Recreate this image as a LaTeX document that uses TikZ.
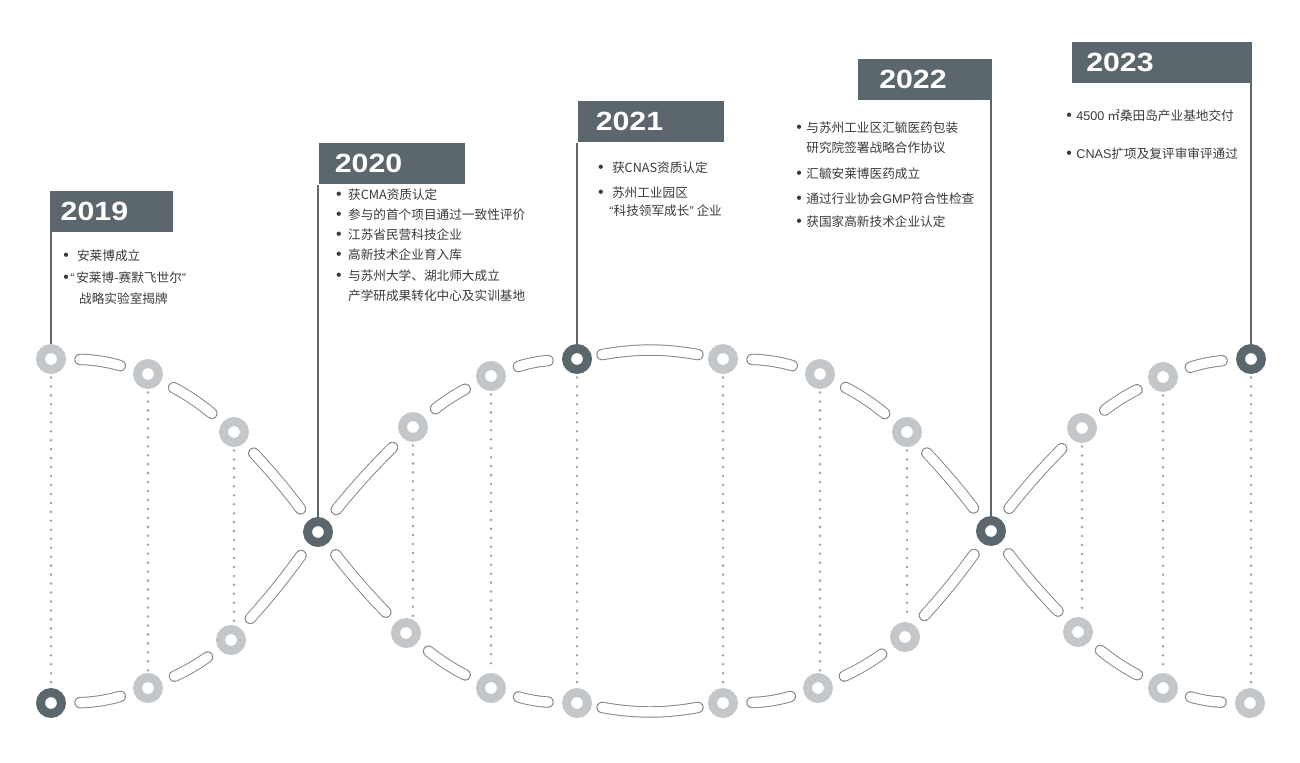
\documentclass[tikz,border=0pt]{standalone}
\usepackage{fontspec}
\usepackage{tikz}
\setmainfont{Noto Sans CJK SC}
\newfontfamily\latinfont{Liberation Sans}
\newfontfamily\yearfont[FakeStretch=1.15]{Liberation Sans}
\definecolor{darkslate}{HTML}{5C666D}
\definecolor{ringgray}{HTML}{C3C7CA}
\definecolor{capsgray}{HTML}{858585}
\definecolor{dotgray}{HTML}{A2A2A2}
\definecolor{txtgray}{HTML}{3A3A3A}
\newcommand{\bul}[1][6.8pt]{\makebox[#1][l]{\latinfont\fontsize{9pt}{9pt}\selectfont •}}

\begin{document}
\begin{tikzpicture}[
    x=0.02cm, y=0.02cm,
    ring/.style={circle, draw=ringgray, line width=5.1pt, fill=white, minimum size=11.9pt, inner sep=0pt, outer sep=2.55pt},
    darkring/.style={ring, draw=darkslate},
    capsule/.style={draw=capsgray, line width=0.55pt, double=white, double distance=5.4pt, line cap=round, shorten <=8pt, shorten >=8pt},
    dots/.style={dotgray, line width=1.6pt, line cap=round, dash pattern=on 0pt off 5.1pt, shorten <=2pt, shorten >=1pt},
    stem/.style={darkslate, line width=0.75pt},
    yearbox/.style={fill=darkslate, text=white, font=\yearfont\bfseries\fontsize{15pt}{15pt}\selectfont, minimum height=23.3pt, anchor=north west, align=left},
    info/.style={anchor=north west, inner sep=0pt, align=left, text=txtgray, font=\fontsize{7.2pt}{11.5pt}\selectfont},
]
\useasboundingbox (0,0) rectangle (1300,-762);

% strand a
\node[ring] (a1) at (51,-359) {};
\node[ring] (a2) at (148,-374) {};
\node[ring] (a3) at (234,-432) {};
\node[darkring] (x1) at (318,-532) {};
\node[ring] (a5) at (406,-633) {};
\node[ring] (a6) at (491,-688) {};
\node[ring] (a7) at (577,-703) {};
\node[ring] (a8) at (723,-703) {};
\node[ring] (a9) at (818,-688) {};
\node[ring] (a10) at (905,-637) {};
\node[darkring] (x2) at (991,-531) {};
\node[ring] (a12) at (1082,-428) {};
\node[ring] (a13) at (1163,-377) {};
\node[darkring] (a14) at (1251,-359) {};

% strand b
\node[darkring] (b1) at (51,-703) {};
\node[ring] (b2) at (148,-688) {};
\node[ring] (b3) at (231,-640) {};
\node[ring] (b5) at (413,-427) {};
\node[ring] (b6) at (491,-376) {};
\node[darkring] (b7) at (577,-359) {};
\node[ring] (b8) at (723,-359) {};
\node[ring] (b9) at (820,-374) {};
\node[ring] (b10) at (907,-432) {};
\node[ring] (b12) at (1078,-632) {};
\node[ring] (b13) at (1163,-688) {};
\node[ring] (b14) at (1250,-703) {};

\foreach \u/\l in {a1/b1, a2/b2, a3/b3, b5/a5, b6/a6, b7/a7, b8/a8, b9/a9, b10/a10, a12/b12, a13/b13, a14/b14}
    \draw[dots] (\u.south) -- (\u.south |- \l.north);

\foreach \s/\t/\b in {a1/a2/8, a2/a3/6, a3/x1/3, x1/a5/-3, a5/a6/-6, a6/a7/-8, a8/a9/-8, a9/a10/-6, a10/x2/-3, x2/a12/3, a12/a13/6, a13/a14/8,
                      b1/b2/-8, b2/b3/-6, b3/x1/-3, x1/b5/3, b5/b6/6, b6/b7/8, b8/b9/8, b9/b10/6, b10/x2/3, x2/b12/-3, b12/b13/-6, b13/b14/-8}
    \draw[capsule] (\s) to[bend left=\b] (\t);
\draw[capsule, shorten <=6pt, shorten >=6pt] (a7) to[bend right=10] (a8);
\draw[capsule, shorten <=6pt, shorten >=6pt] (b7) to[bend left=10] (b8);

\node[yearbox, inner xsep=6.2pt, text width=57.9pt] (y19) at (49.5,-190.7) {2019};
\node[yearbox, inner xsep=9.1pt, text width=65.1pt] (y20) at (318.5,-143) {2020};
\node[yearbox, inner xsep=10.2pt, text width=62.9pt] (y21) at (577.5,-101) {2021};
\node[yearbox, inner xsep=11.9pt, text width=52.2pt] (y22) at (858,-58.3) {2022};
\node[yearbox, inner xsep=7.9pt, text width=86.2pt] (y23) at (1072,-41.7) {2023};

\draw[stem] (a1.north) -- (a1.north |- y19.south);
\draw[stem] (x1.north) -- (x1.north |- y20.south);
\draw[stem] (b7.north) -- (b7.north |- y21.south);
\draw[stem] (x2.north) -- (x2.north |- y22.south);
\draw[stem] (a14.north) -- (a14.north |- y23.south);

\node[info] (t19) at (63,-249) {\bul[7.8pt]安莱博成立\\[1.5pt]
    \bul[4pt]{\latinfont “}\hspace{1pt}安莱博-赛默飞世尔{\latinfont ”}\\
    \hspace*{9pt}战略实验室揭牌};
\node[info] (t20) at (335.8,-188.3) {\bul 获CMA资质认定\\
    \bul 参与的首个项目通过一致性评价\\
    \bul 江苏省民营科技企业\\
    \bul 高新技术企业育入库\\
    \bul 与苏州大学、湖北师大成立\\
    \hspace*{6.8pt}产学研成果转化中心及实训基地};
\node[info] (t21) at (597.8,-161.7) {\bul[7.9pt]获CNAS资质认定\\[2.3pt]
    \bul[7.9pt]苏州工业园区\\[-1pt]
    \hspace*{6.4pt}{\latinfont “}科技领军成长{\latinfont ”} 企业};
\node[info] (t22) at (796,-121.7) {\bul[5.7pt]与苏州工业区汇毓医药包装\\
    \hspace*{5.7pt}研究院签署战略合作协议\\[3.2pt]
    \bul[5.7pt]汇毓安莱博医药成立\\[2.5pt]
    \bul[5.7pt]通过行业协会{\latinfont GMP}符合性检查\\[1.9pt]
    \bul[5.7pt]获国家高新技术企业认定};
\node[info] (t23) at (1066,-109) {\bul[5.7pt]{\latinfont 4500} ㎡桑田岛产业基地交付\\[10.4pt]
    \bul[5.7pt]{\latinfont CNAS}扩项及复评审审评通过};

\end{tikzpicture}
\end{document}
